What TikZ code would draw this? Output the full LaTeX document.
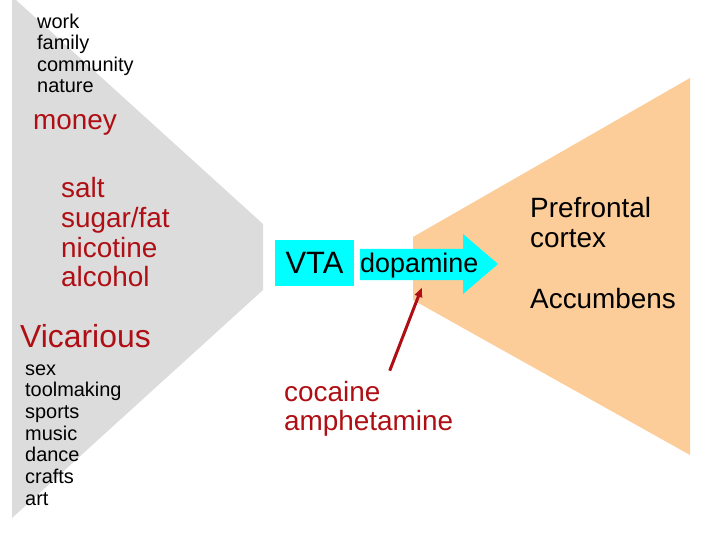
\documentclass[tikz,border=0pt]{standalone}
\usepackage{fontspec}
\setmainfont{Liberation Sans}
\usetikzlibrary{positioning}
\usetikzlibrary{arrows.meta}
\definecolor{panel}{RGB}{220,220,220}
\definecolor{peach}{RGB}{252,204,153}
\definecolor{aqua}{RGB}{0,255,255}
\definecolor{wine}{RGB}{175,15,20}
\newcommand{\fs}[2]{\fontsize{#1}{#2}\selectfont}

\begin{document}
\begin{tikzpicture}[
    x=1bp, y=-1bp,
    label/.style={anchor=base west, align=left, inner sep=0pt},
    small/.style={label, font=\fs{20}{21.7}},
    big/.style={label, font=\fs{28}{30}},
    reward/.style={big, text=wine},
    drug/.style={-{Latex[length=10bp,width=9bp]}, wine, line width=3bp},
    >=latex
]
    \useasboundingbox (0,0) rectangle (720,540);

    % the two regions
    \fill[panel] (12,0) -- (16,0) -- (263,224) -- (263,290) -- (12,518) -- cycle;
    \fill[peach] (413,237) -- (690,78) -- (690,455) -- (413,300) -- cycle;

    % multi-line labels sit on the baseline of their last line
    \node[small] (natural) at (37,93) {work\\family\\community\\nature};
    \node[reward] (money) at (33,130) {money};
    \node[reward] (food) at (61,287) {salt\\sugar/fat\\nicotine\\alcohol};
    \node[label, font=\fs{32}{34}, text=wine] (vicarious) at (20,347) {Vicarious};
    \node[small] (activity) at (25,505) {sex\\toolmaking\\sports\\music\\dance\\crafts\\art};

    \node[fill=aqua, minimum width=79bp, minimum height=46bp, inner sep=0pt,
          font=\fs{31}{33}] (vta) at (314.5,263) {VTA};

    % dopamine arrow
    \coordinate (tip) at (498,264);
    \fill[aqua] (360,249) -- (463,249) -- (463,234) -- (tip) -- (463,294)
        -- (463,280) -- (360,280) -- cycle;
    \node[label, font=\fs{27}{29}] (dopamine) at (360,273) {dopamine};

    \node[big, font=\fs{28}{31}] (pfc) at (530,248) {Prefrontal\\cortex};
    \node[big] (nac) at (530,308) {Accumbens};

    \node[reward, font=\fs{28}{29}] (stim) at (284,430) {cocaine\\amphetamine};
    \coordinate (release) at (422,287);
    \draw[drug] ([xshift=21bp,yshift=10bp]stim.north) -- (release);
\end{tikzpicture}
\end{document}
